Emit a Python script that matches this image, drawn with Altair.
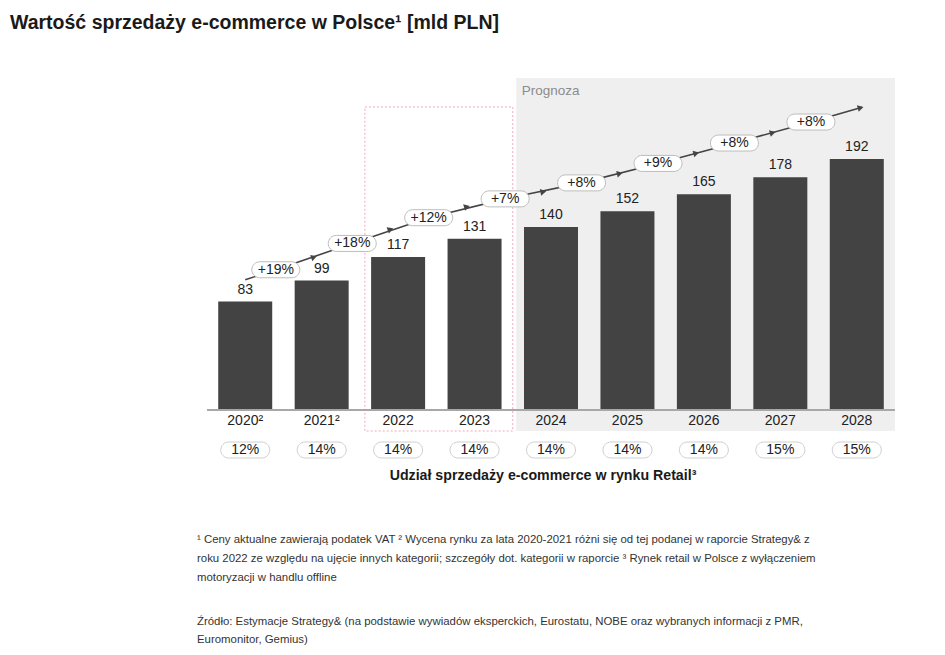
import altair as alt
import numpy as np
import pandas as pd

# --- data ---
years = ["2020²", "2021²", "2022", "2023", "2024", "2025", "2026", "2027", "2028"]
values = [83, 99, 117, 131, 140, 152, 165, 178, 192]
shares = ["12%", "14%", "14%", "14%", "14%", "14%", "14%", "15%", "15%"]
growth = ["+19%", "+18%", "+12%", "+7%", "+8%", "+9%", "+8%", "+8%"]
highlight_years = ["2022", "2023"]
first_forecast = "2024"

title_text = "Wartość sprzedaży e-commerce w Polsce¹ [mld PLN]"
share_title = "Udział sprzedaży e-commerce w rynku Retail³"
notes = [
    "¹ Ceny aktualne zawierają podatek VAT ² Wycena rynku za lata 2020-2021 różni się od tej podanej w raporcie Strategy& z",
    "roku 2022 ze względu na ujęcie innych kategorii; szczegóły dot. kategorii w raporcie ³ Rynek retail w Polsce z wyłączeniem",
    "motoryzacji w handlu offline",
]
source = [
    "Źródło: Estymacje Strategy& (na podstawie wywiadów eksperckich, Eurostatu, NOBE oraz wybranych informacji z PMR,",
    "Euromonitor, Gemius)",
]

W, H, YMAX = 688, 332, 254
FONT = "Liberation Sans"
DARK = "#434343"

idx = np.arange(len(years))
xs = alt.Scale(domain=[-0.5, len(years) - 0.5], padding=0)
ys = alt.Scale(domain=[0, YMAX], padding=0)

bars_df = pd.DataFrame({"i": idx, "year": years, "v": values, "share": shares})
plain = [y.rstrip("²") for y in years]


def level(t):
    # trend arrow floats above the bars, following their growth
    t = np.asarray(t, float)
    base = np.interp(t, idx, values)
    base = base + np.clip(t - idx[-1], 0, None) * (values[-1] - values[-2])
    return 1.2 * base


pill_t = idx[:-1] + 0.4
pill_df = pd.DataFrame({"t": pill_t, "lvl": level(pill_t), "g": growth})

line_t = np.concatenate([[0.0], pill_t, [len(years) - 0.93]])
line_df = pd.DataFrame({"t": line_t, "lvl": level(line_t)})

arr_t = np.concatenate([idx[:-2] + 0.9, [len(years) - 0.95]])
px_x, px_y = W / len(years), H / YMAX
slope = (level(arr_t + 0.05) - level(arr_t - 0.05)) * px_y / (0.1 * px_x)
arr_df = pd.DataFrame({"t": arr_t, "lvl": level(arr_t),
                       "ang": np.degrees(np.arctan2(-slope, 1.0)) % 360})

h0, h1 = plain.index(highlight_years[0]), plain.index(highlight_years[-1])
f0 = plain.index(first_forecast)
zones = pd.DataFrame({"x0": [h0 - 0.5, f0 - 0.5], "x1": [h1 + 0.5, len(years) - 0.5]})

X = lambda f: alt.X(f, scale=xs, axis=None)
Y = lambda f: alt.Y(f, scale=ys, axis=None)

forecast_bg = alt.Chart(zones.iloc[[1]]).mark_rect(color="#efefef", xOffset=3.5).encode(
    x=X("x0:Q"), x2="x1:Q", y=alt.value(0), y2=alt.value(353))
prognoza = alt.Chart(zones.iloc[[1]]).mark_text(
    align="left", baseline="middle", dx=9, fontSize=13.5, color="#8c8c8c", font=FONT
).encode(x=X("x0:Q"), y=alt.value(13), text=alt.value("Prognoza"))
hist_box = alt.Chart(zones.iloc[[0]]).mark_rect(
    fillOpacity=0, stroke="#f2a7b8", strokeDash=[2, 2], strokeWidth=1, xOffset=5
).encode(x=X("x0:Q"), x2="x1:Q", y=alt.value(29), y2=alt.value(353))

bars = alt.Chart(bars_df).mark_bar(size=54, color=DARK).encode(x=X("i:Q"), y=Y("v:Q"))
vals = alt.Chart(bars_df).mark_text(baseline="bottom", dy=-5, fontSize=14, color="#222", font=FONT).encode(
    x=X("i:Q"), y=Y("v:Q"), text="v:Q")
baseline = alt.Chart(bars_df).mark_rule(color="#a8a8a8", strokeWidth=1.2).encode(
    x=alt.value(0), x2=alt.value(W), y=alt.value(H))
year_lbl = alt.Chart(bars_df).mark_text(baseline="middle", fontSize=14, color="#222", font=FONT).encode(
    x=X("i:Q"), y=alt.value(H + 11), text="year:N")

share_pill = alt.Chart(bars_df).mark_rect(
    fill="white", stroke="#cfcfcf", strokeWidth=1, cornerRadius=8, xOffset=-24.5, x2Offset=24.5
).encode(x=X("i:Q"), x2="i:Q", y=alt.value(H + 32), y2=alt.value(H + 48))
share_lbl = alt.Chart(bars_df).mark_text(baseline="middle", fontSize=14, color="#222", font=FONT).encode(
    x=X("i:Q"), y=alt.value(H + 40), text="share:N")

trend = alt.Chart(line_df).mark_line(color="#444", strokeWidth=1.6).encode(x=X("t:Q"), y=Y("lvl:Q"))
heads = alt.Chart(arr_df).mark_point(shape="triangle-right", filled=True, size=45, color="#444", opacity=1).encode(
    x=X("t:Q"), y=Y("lvl:Q"), angle=alt.Angle("ang:Q", scale=None))
g_pill = alt.Chart(pill_df).mark_rect(
    fill="white", stroke="#bdbdbd", strokeWidth=1, cornerRadius=8,
    xOffset=-24, x2Offset=24, yOffset=-8, y2Offset=8
).encode(x=X("t:Q"), x2="t:Q", y=Y("lvl:Q"), y2="lvl:Q")
g_lbl = alt.Chart(pill_df).mark_text(baseline="middle", fontSize=14, color="#222", font=FONT).encode(
    x=X("t:Q"), y=Y("lvl:Q"), text="g:N")

one = pd.DataFrame({"a": [0]})
share_ttl = alt.Chart(one).mark_text(baseline="middle", fontSize=14.2, fontWeight="bold",
                                     color="#1a1a1a", font=FONT).encode(
    x=alt.value(336), y=alt.value(H + 66), text=alt.value(share_title))
notes_txt = alt.Chart(one).mark_text(align="left", baseline="middle", fontSize=11.4, lineHeight=19,
                                     lineBreak="\n", color="#333", font=FONT).encode(
    x=alt.value(-10), y=alt.value(H + 130), text=alt.value("\n".join(notes)))
source_txt = alt.Chart(one).mark_text(align="left", baseline="middle", fontSize=11.4, lineHeight=18,
                                      lineBreak="\n", color="#333", font=FONT).encode(
    x=alt.value(-10), y=alt.value(H + 212), text=alt.value("\n".join(source)))

chart = alt.layer(
    forecast_bg, prognoza, hist_box, bars, vals, baseline, year_lbl, share_pill, share_lbl,
    trend, heads, g_pill, g_lbl, share_ttl, notes_txt, source_txt
).properties(
    width=W, height=H, autosize="none",
    padding={"left": 199, "top": 70, "right": 42, "bottom": 237},
    title=alt.TitleParams(title_text, anchor="start", frame="group", dx=-197, dy=-41,
                          fontSize=19.5, fontWeight="bold", color="#1a1a1a", font=FONT),
).configure_view(stroke=None)

chart.save("out.html", embed_options={"renderer": "svg", "actions": False})
